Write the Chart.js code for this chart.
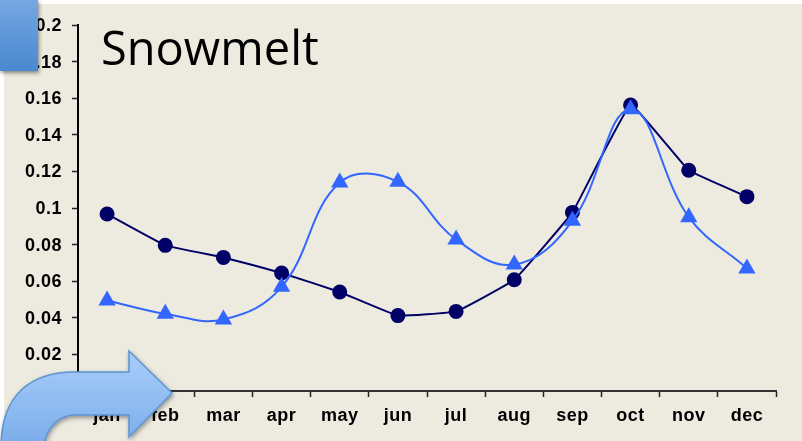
<!DOCTYPE html>
<html>
<head>
<meta charset="utf-8">
<script src="https://cdn.jsdelivr.net/npm/chart.js@4"></script>
<style>
  html, body { margin: 0; padding: 0; background: #fff; overflow: hidden; }
  #wrap { position: relative; width: 802px; height: 441px; }
  #panel { position: absolute; left: 4px; top: 4px; right: 0; bottom: 0; background: #edebe0; }
  #chart { position: absolute; left: 0; top: 0; }
  #title { position: absolute; left: 101px; top: 16px; font: 47px "Open Sans", sans-serif; color: #000; line-height: 62px; }
  #square { position: absolute; left: 0; top: 0; width: 38px; height: 71px;
    background: linear-gradient(#75a7e3, #4a88cf); box-shadow: 1px 2px 4px rgba(0,0,0,.45); }
  #arrow { position: absolute; left: 0; top: 0; }
</style>
</head>
<body>
<div id="wrap">
  <div id="panel"></div>
  <canvas id="chart" width="802" height="441"></canvas>
  <div id="title">Snowmelt</div>
  <div id="square"></div>
  <svg id="arrow" width="802" height="441">
    <defs>
      <linearGradient id="fill" x1="0" y1="0" x2="0" y2="1">
        <stop offset="0" stop-color="#a9cdfa"/>
        <stop offset="1" stop-color="#7badeb"/>
      </linearGradient>
      <filter id="shade" x="-10%" y="-10%" width="125%" height="125%">
        <feDropShadow dx="1" dy="2" stdDeviation="2" flood-opacity="0.4"/>
      </filter>
    </defs>
    <path d="M1 445 C2 395 30 372 75 372 L129 372 L129 351 L172 393 L129 437 L129 415 L75 415 C60 415 47 426 44 445 Z"
      fill="url(#fill)" stroke="#5c94d0" stroke-width="1.5" filter="url(#shade)"/>
  </svg>
</div>
<script>
  const months = ['jan', 'feb', 'mar', 'apr', 'may', 'jun', 'jul', 'aug', 'sep', 'oct', 'nov', 'dec'];
  const darkSeries = [0.0967, 0.0796, 0.0730, 0.0645, 0.0541, 0.0412, 0.0435, 0.0608, 0.0976, 0.1563, 0.1206, 0.1062];
  const lightSeries = [0.0495, 0.0422, 0.0391, 0.0569, 0.1139, 0.1143, 0.0828, 0.0691, 0.0930, 0.1540, 0.0950, 0.0670];

  const tickFont = { family: '"Liberation Sans", Arial, sans-serif', size: 18, weight: 'bold' };

  // the original tick text is a bit stretched, spacing gets close to it
  const spacing = {
    id: 'spacing',
    beforeDraw(c) { c.ctx.letterSpacing = '0.5px'; }
  };

  new Chart(document.getElementById('chart').getContext('2d'), {
    type: 'line',
    data: {
      labels: months,
      datasets: [{
        label: 'dark',
        data: darkSeries,
        order: 2,
        borderColor: '#000066',
        backgroundColor: '#000066',
        borderWidth: 2,
        tension: 0.08,
        pointStyle: 'circle',
        pointRadius: 7.5,
        pointBorderWidth: 0,
        pointHoverRadius: 7.5
      }, {
        label: 'light',
        data: lightSeries,
        order: 1,
        borderColor: '#3366ff',
        backgroundColor: '#3366ff',
        borderWidth: 2,
        tension: 0.4,
        pointStyle: 'triangle',
        pointRadius: 10,
        pointBorderWidth: 0,
        pointHoverRadius: 10
      }]
    },
    options: {
      responsive: false,
      animation: false,
      layout: { padding: { left: 0, top: 25, right: 26, bottom: 0 } },
      plugins: { legend: { display: false }, tooltip: { enabled: false } },
      scales: {
        x: {
          offset: true,
          grid: { offset: true, drawOnChartArea: false, tickLength: 6, tickColor: '#222', tickWidth: 1.5 },
          border: { color: '#333', width: 2 },
          ticks: { color: '#000', font: tickFont, padding: 8, maxRotation: 0, autoSkip: false },
          afterFit(s) { s.height = 50; }
        },
        y: {
          min: 0,
          max: 0.2,
          grid: { drawOnChartArea: false, tickLength: 6, tickColor: '#222', tickWidth: 1.5 },
          border: { color: '#000', width: 2 },
          ticks: {
            stepSize: 0.02,
            color: '#000',
            font: tickFont,
            padding: 10,
            labelOffset: 1,
            callback: v => String(Number(v.toFixed(2)))
          },
          afterFit(s) { s.width = 78; }
        }
      }
    },
    plugins: [spacing]
  });
</script>
</body>
</html>
